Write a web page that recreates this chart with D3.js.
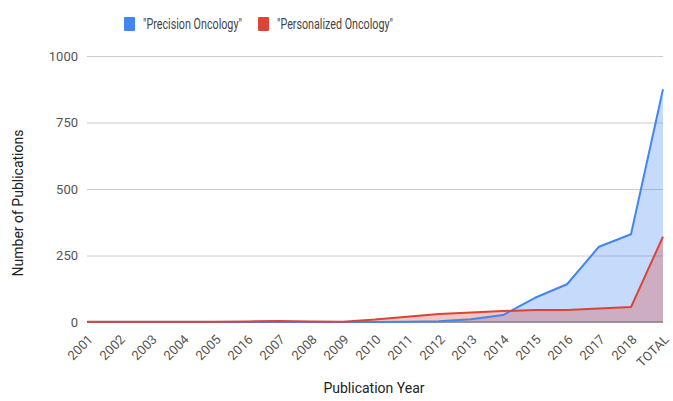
<!DOCTYPE html>
<html>
<head>
<meta charset="utf-8">
<script src="https://cdn.jsdelivr.net/npm/d3@7"></script>
<style>
  body { margin: 0; background: #fff; }
  svg { font-family: Roboto, Arial, sans-serif; }
</style>
</head>
<body>
<div id="chart"></div>
<script>
const categories = ['2001', '2002', '2003', '2004', '2005', '2016', '2007', '2008', '2009', '2010',
    '2011', '2012', '2013', '2014', '2015', '2016 ', '2017', '2018', 'TOTAL'];
const precision = [0, 0, 0, 0, 0, 0, 0, 0, 0, 0, 1, 3, 10, 26, 91, 142, 283, 330, 875];
const personalized = [1, 1, 1, 1, 1, 2, 4, 2, 1, 9, 20, 30, 36, 41, 45, 45, 51, 56, 321];
const yTicks = [0, 250, 500, 750, 1000];
const seriesNames = ['"Precision Oncology"', '"Personalized Oncology"'];
const colors = ['#4285f4', '#db4437'];

const width = 673;
const height = 401;
const plotLeft = 87, plotRight = 663, plotTop = 56, plotBottom = 322;

const svg = d3.select('#chart')
    .append('svg')
    .attr('width', width)
    .attr('height', height);

const xScale = d3.scalePoint()
    .domain(categories)
    .range([plotLeft, plotRight]);

const yScale = d3.scaleLinear()
    .domain([0, 1000])
    .range([plotBottom, plotTop]);

// gridlines + y labels
const yAxis = d3.axisLeft(yScale)
    .tickValues(yTicks)
    .tickSize(-(plotRight - plotLeft))
    .tickPadding(9)
    .tickFormat(d3.format('d'));

svg.append('g')
    .attr('transform', `translate(${plotLeft}, 0)`)
    .call(yAxis)
    .call(g => g.select('.domain').remove())
    .call(g => g.selectAll('line').attr('stroke', '#cccccc'))
    .call(g => g.selectAll('text')
        .attr('fill', '#555')
        .attr('font-size', 13)
        .attr('font-family', 'Roboto, Arial, sans-serif'));

const series = [precision, personalized];

const area = d3.area()
    .x((d, i) => xScale(categories[i]))
    .y0(yScale(0))
    .y1(d => yScale(d));

const line = d3.line()
    .x((d, i) => xScale(categories[i]))
    .y(d => yScale(d));

series.forEach((s, k) => {
    svg.append('path')
        .datum(s)
        .attr('d', area)
        .attr('fill', colors[k])
        .attr('fill-opacity', 0.3);
});

// baseline
svg.append('line')
    .attr('x1', plotLeft).attr('x2', plotRight)
    .attr('y1', yScale(0)).attr('y2', yScale(0))
    .attr('stroke', '#666')
    .attr('stroke-width', 1);

series.forEach((s, k) => {
    svg.append('path')
        .datum(s)
        .attr('d', line)
        .attr('fill', 'none')
        .attr('stroke', colors[k])
        .attr('stroke-width', 2)
        .attr('stroke-linejoin', 'round');
});

// x labels
const xAxis = d3.axisBottom(xScale).tickSize(0).tickPadding(0);
svg.append('g')
    .attr('transform', `translate(0, ${plotBottom})`)
    .call(xAxis)
    .call(g => g.select('.domain').remove())
    .call(g => g.selectAll('text')
        .attr('fill', '#555')
        .attr('font-size', 13)
        .attr('font-family', 'Roboto, Arial, sans-serif')
        .attr('text-anchor', 'end')
        .attr('dy', '0.35em')
        .attr('transform', 'translate(3, 15) rotate(-45)'));

// axis titles
svg.append('text')
    .attr('x', (plotLeft + plotRight) / 2 - 1)
    .attr('y', 393)
    .attr('text-anchor', 'middle')
    .attr('font-size', 14)
    .attr('fill', '#222')
    .text('Publication Year');

svg.append('text')
    .attr('transform', `translate(23, ${(plotTop + plotBottom) / 2 + 14}) rotate(-90)`)
    .attr('text-anchor', 'middle')
    .attr('font-size', 14)
    .attr('fill', '#222')
    .text('Number of Publications');

// legend
const legendX = [124, 258];
const legendTextWidth = [99, 116];
seriesNames.forEach((name, k) => {
    const g = svg.append('g').attr('transform', `translate(${legendX[k]}, 17)`);
    g.append('rect')
        .attr('width', 11).attr('height', 14)
        .attr('rx', 1)
        .attr('fill', colors[k]);
    g.append('text')
        .attr('x', 19)
        .attr('y', 12)
        .attr('font-size', 14)
        .attr('fill', '#444')
        .attr('textLength', legendTextWidth[k])
        .attr('lengthAdjust', 'spacingAndGlyphs')
        .text(name);
});
</script>
</body>
</html>
